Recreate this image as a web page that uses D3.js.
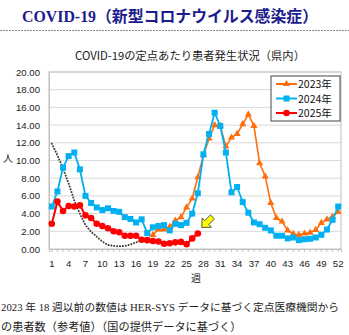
<!DOCTYPE html>
<html>
<head>
<meta charset="utf-8">
<script src="https://cdn.jsdelivr.net/npm/d3@7"></script>
<style>
  body { margin: 0; background: #fff; }
  svg { display: block; }
  text { font-family: "Noto Sans CJK JP", "Noto Sans", sans-serif; }
</style>
</head>
<body>
<div id="chart"></div>
<script>
// weeks 1..52
const weeks = d3.range(1, 53);
const xTickWeeks = [1, 4, 7, 10, 13, 16, 19, 22, 25, 28, 31, 34, 37, 40, 43, 46, 49, 52];
const yTicks = [0, 2, 4, 6, 8, 10, 12, 14, 16, 18, 20];

// 2023 weeks 1-18 (HER-SYS reference values, dotted)
const ref2023 = [11.9, 10.6, 9.1, 7.4, 5.5, 4.0, 2.7, 1.95, 1.4, 0.85, 0.45, 0.35, 0.3, 0.35, 0.5, 0.75, 1.0, 1.3];
// 2023 weeks 19-52
const y2023 = [1.6, 2.2, 2.2, 2.5, 3.2, 3.6, 4.7, 5.7, 8.1, 10.6, 12.5, 14.0, 13.9, 11.6, 12.6, 13.0, 14.1, 15.2,
  13.9, 9.7, 8.2, 5.2, 3.5, 3.1, 2.1, 1.7, 1.6, 1.75, 1.85, 2.15, 2.95, 3.35, 3.65, 4.2];
const y2024 = [4.8, 6.5, 9.2, 10.5, 10.9, 9.0, 6.0, 5.2, 4.7, 4.4, 4.6, 4.3, 4.2, 3.6, 3.4, 3.0, 3.35, 1.8,
  2.45, 2.6, 2.7, 2.1, 2.85, 2.7, 2.95, 4.0, 6.3, 10.7, 13.0, 15.4, 13.9, 10.9, 6.4, 7.0, 5.3, 4.1,
  3.0, 2.8, 2.4, 2.1, 1.5, 1.5, 1.2, 1.3, 1.0, 1.1, 1.15, 1.3, 1.6, 2.2, 3.3, 4.8];
const y2025 = [2.85, 5.35, 4.3, 4.85, 4.8, 4.95, 3.8, 3.5, 2.85, 2.6, 2.35, 2.0, 1.9, 1.5, 1.5, 1.5,
  1.05, 1.0, 0.9, 0.85, 0.6, 0.65, 0.75, 0.8, 0.55, 1.2, 1.75];

const W = 349, H = 335;
const plot = { left: 49, right: 341, top: 72, bottom: 249 };

const svg = d3.select("#chart").append("svg")
    .attr("width", W)
    .attr("height", H);

// page heading
svg.append("text")
    .attr("x", 22).attr("y", 22)
    .attr("textLength", 296).attr("lengthAdjust", "spacingAndGlyphs")
    .style("font-family", "'Liberation Serif', 'Noto Sans CJK JP', serif")
    .style("font-weight", "bold")
    .style("font-size", "16px")
    .attr("fill", "#1c1c8c")
    .text("COVID-19（新型コロナウイルス感染症）");

svg.append("line")
    .attr("x1", 0).attr("x2", W)
    .attr("y1", 30.5).attr("y2", 30.5)
    .attr("stroke", "#888")
    .attr("stroke-dasharray", "2,1");

const x = d3.scaleBand()
    .domain(weeks)
    .range([plot.left, plot.right]);

const y = d3.scaleLinear()
    .domain([0, 20])
    .range([plot.bottom, plot.top]);

const cx = w => x(w) + x.bandwidth() / 2;

// chart title
svg.append("text")
    .attr("x", 190).attr("y", 60)
    .attr("text-anchor", "middle")
    .style("font-size", "11.3px")
    .attr("fill", "#222")
    .text("COVID-19の定点あたり患者発生状況（県内）");

// gridlines
svg.append("g")
    .selectAll("line")
    .data(yTicks.slice(1))
    .join("line")
        .attr("x1", plot.left).attr("x2", plot.right)
        .attr("y1", d => y(d)).attr("y2", d => y(d))
        .attr("stroke", "#d9d9d9")
        .attr("stroke-width", 1);

// plot border
svg.append("rect")
    .attr("x", plot.left).attr("y", plot.top)
    .attr("width", plot.right - plot.left)
    .attr("height", plot.bottom - plot.top)
    .attr("fill", "none")
    .attr("stroke", "#bfbfbf");

// y axis
const yAxis = svg.append("g")
    .attr("transform", `translate(${plot.left},0)`)
    .call(d3.axisLeft(y).tickValues(yTicks).tickFormat(d3.format(".2f")).tickSize(0).tickPadding(9));
yAxis.select(".domain").attr("stroke", "#bfbfbf");
yAxis.selectAll("text")
    .style("font-family", "'Liberation Sans', sans-serif")
    .style("font-size", "9.6px")
    .attr("fill", "#222");

// x axis: small tick each week, label every 3 weeks
const xAxis = svg.append("g")
    .attr("transform", `translate(0,${plot.bottom})`)
    .call(d3.axisBottom(x).tickSize(3).tickPadding(8)
        .tickFormat(d => xTickWeeks.includes(d) ? d : ""));
xAxis.select(".domain").attr("stroke", "#bfbfbf");
xAxis.selectAll(".tick line").attr("stroke", "#bfbfbf");
xAxis.selectAll("text")
    .style("font-family", "'Liberation Sans', sans-serif")
    .style("font-size", "9.6px")
    .attr("fill", "#222");

svg.append("text")
    .attr("x", 8).attr("y", 162)
    .attr("text-anchor", "middle")
    .style("font-size", "10px")
    .attr("fill", "#222")
    .text("人");

svg.append("text")
    .attr("x", 196).attr("y", 282)
    .attr("text-anchor", "middle")
    .style("font-size", "10px")
    .attr("fill", "#222")
    .text("週");

const line = d3.line()
    .x(d => cx(d.w))
    .y(d => y(d.v));

const ref = ref2023.map((v, i) => ({ w: i + 1, v }));
const s23 = y2023.map((v, i) => ({ w: i + 19, v }));
const s24 = y2024.map((v, i) => ({ w: i + 1, v }));
const s25 = y2025.map((v, i) => ({ w: i + 1, v }));

// dotted reference line
svg.append("path")
    .datum(ref)
    .attr("d", line)
    .attr("fill", "none")
    .attr("stroke", "#3f3f35")
    .attr("stroke-width", 2)
    .attr("stroke-linecap", "round")
    .attr("stroke-dasharray", "0.1,2.8");

const orange = "#ff6d0d", blue = "#00b0f0", red = "#ff0000";
const tri = d3.symbol().type(d3.symbolTriangle).size(22);
const sq = d3.symbol().type(d3.symbolSquare).size(36);

// 2023
svg.append("path").datum(s23).attr("d", line)
    .attr("fill", "none").attr("stroke", orange).attr("stroke-width", 1.6);
svg.append("g").selectAll("path").data(s23).join("path")
    .attr("d", tri)
    .attr("transform", d => `translate(${cx(d.w)},${y(d.v)})`)
    .attr("fill", orange);

// 2024
svg.append("path").datum(s24).attr("d", line)
    .attr("fill", "none").attr("stroke", blue).attr("stroke-width", 1.8);
svg.append("g").selectAll("path").data(s24).join("path")
    .attr("d", sq)
    .attr("transform", d => `translate(${cx(d.w)},${y(d.v)})`)
    .attr("fill", blue);

// 2025
svg.append("path").datum(s25).attr("d", line)
    .attr("fill", "none").attr("stroke", red).attr("stroke-width", 2);
svg.append("g").selectAll("circle").data(s25).join("circle")
    .attr("cx", d => cx(d.w))
    .attr("cy", d => y(d.v))
    .attr("r", 3.3)
    .attr("fill", red);

// yellow arrow pointing down-left at latest 2025 value
const last = s25[s25.length - 1];
svg.append("path")
    .attr("transform", `translate(${cx(last.w) + 4},${y(last.v) - 6}) rotate(-45)`)
    .attr("d", "M0,0 L7,-6.5 L7,-2.8 L15,-2.8 L15,2.8 L7,2.8 L7,6.5 Z")
    .attr("fill", "#ffff00")
    .attr("stroke", "#333")
    .attr("stroke-width", 0.8);

// legend
const legendItems = [
    { name: "2023年", color: orange, shape: tri },
    { name: "2024年", color: blue, shape: sq },
    { name: "2025年", color: red, shape: null }
];
const lg = svg.append("g").attr("transform", "translate(271,76)");
lg.append("rect")
    .attr("width", 69).attr("height", 45)
    .attr("fill", "#fff")
    .attr("stroke", "#444");
legendItems.forEach((d, i) => {
    const ly = 8 + i * 14.5;
    lg.append("line")
        .attr("x1", 5).attr("x2", 26)
        .attr("y1", ly).attr("y2", ly)
        .attr("stroke", d.color).attr("stroke-width", 2);
    if (d.shape) {
        lg.append("path").attr("d", d.shape)
            .attr("transform", `translate(15.5,${ly})`)
            .attr("fill", d.color);
    } else {
        lg.append("circle").attr("cx", 15.5).attr("cy", ly).attr("r", 3.3).attr("fill", d.color);
    }
    lg.append("text")
        .attr("x", 27).attr("y", ly + 4)
        .style("font-size", "10.5px")
        .attr("fill", "#111")
        .text(d.name);
});

// footnote
const notes = [
    "2023 年 18 週以前の数値は HER-SYS データに基づく定点医療機関から",
    "の患者数（参考値）（国の提供データに基づく）"
];
svg.append("g").selectAll("text").data(notes).join("text")
    .attr("x", 1)
    .attr("y", (d, i) => 311 + i * 20)
    .attr("textLength", (d, i) => i === 0 ? 338 : null)
    .attr("lengthAdjust", "spacingAndGlyphs")
    .style("font-family", "'Liberation Serif', 'Noto Sans CJK JP', serif")
    .style("font-size", (d, i) => i === 0 ? "10.6px" : "11.2px")
    .attr("fill", "#222")
    .text(d => d);
</script>
</body>
</html>
